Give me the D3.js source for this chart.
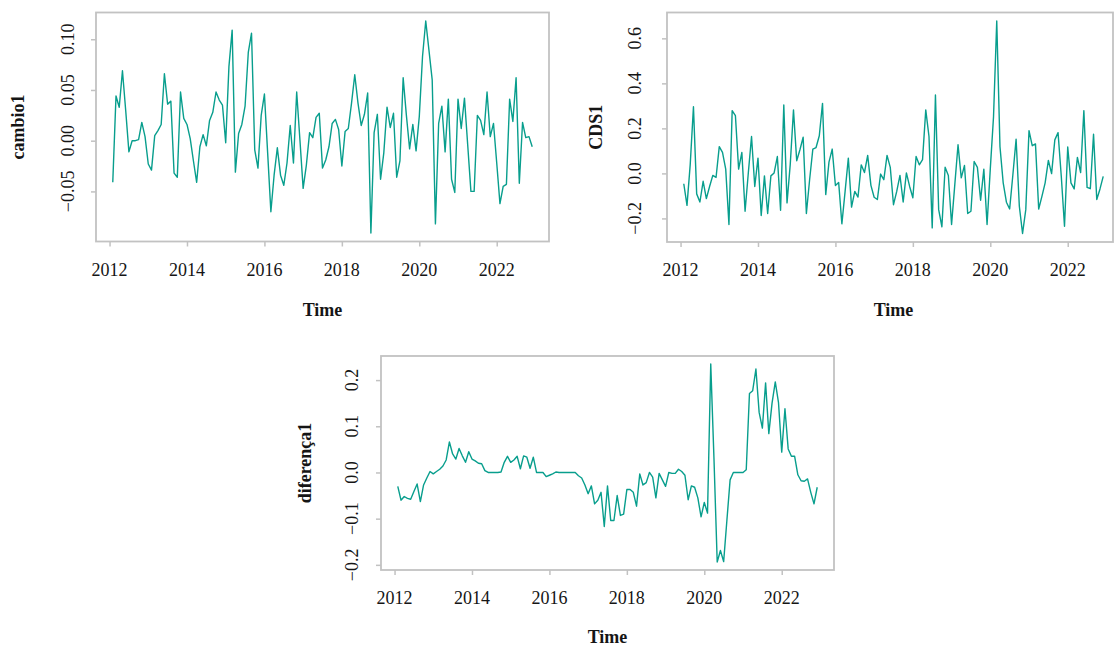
<!DOCTYPE html>
<html>
<head>
<meta charset="utf-8">
<script src="https://cdn.jsdelivr.net/npm/d3@7/dist/d3.min.js"></script>
<style>
  html, body { margin: 0; padding: 0; background: #ffffff; }
  svg { display: block; }
  text { font-family: "Liberation Serif", "DejaVu Serif", serif; fill: #151515; }
</style>
</head>
<body>
<svg id="chart" width="1114" height="650"></svg>
<script>
// Monthly series, February 2012 through December 2022 (first differences)
const startYear = 2012;
const startMonth = 2; // February

const cambio1 = [
  -0.041, 0.044, 0.033, 0.069, 0.030, -0.011, 0.000, 0.000, 0.001, 0.018, 0.004,
  -0.023, -0.029, 0.005, 0.010, 0.016, 0.066, 0.036, 0.039, -0.032, -0.036, 0.048, 0.022,
  0.016, 0.002, -0.020, -0.041, -0.006, 0.006, -0.005, 0.020, 0.028, 0.048, 0.040, 0.035,
  -0.002, 0.073, 0.109, -0.031, 0.007, 0.016, 0.034, 0.087, 0.106, -0.009, -0.027, 0.025,
  0.046, -0.012, -0.070, -0.034, -0.007, -0.034, -0.044, -0.022, 0.015, -0.022, 0.048, 0.001,
  -0.047, -0.024, 0.008, 0.003, 0.023, 0.027, -0.027, -0.019, -0.006, 0.017, 0.021, 0.011,
  -0.025, 0.009, 0.012, 0.037, 0.065, 0.037, 0.015, 0.026, 0.047, -0.091, 0.008, 0.026,
  -0.038, -0.012, 0.033, 0.013, 0.027, -0.036, -0.020, 0.062, 0.025, -0.008, 0.016, -0.010,
  0.024, 0.083, 0.118, 0.089, 0.060, -0.082, 0.017, 0.034, -0.011, 0.041, -0.038, -0.051,
  0.041, 0.012, 0.042, -0.004, -0.050, -0.050, 0.025, 0.020, 0.006, 0.048, 0.004, 0.017,
  -0.022, -0.062, -0.045, -0.043, 0.041, 0.019, 0.062, -0.042, 0.018, 0.003, 0.004, -0.006
];

const CDS1 = [
  -0.046, -0.142, 0.040, 0.296, -0.091, -0.127, -0.035, -0.112, -0.058, -0.009, -0.018,
  0.119, 0.093, 0.019, -0.227, 0.279, 0.257, 0.019, 0.093, -0.168, 0.002, 0.164, -0.058,
  0.068, -0.187, -0.011, -0.178, -0.011, 0.002, 0.075, -0.164, 0.304, -0.131, 0.040, 0.282,
  0.056, 0.105, 0.161, -0.178, -0.028, 0.108, 0.115, 0.167, 0.311, -0.094, 0.050, 0.108,
  -0.054, -0.040, -0.224, -0.080, 0.068, -0.150, -0.080, -0.105, 0.038, 0.004, 0.080, -0.053,
  -0.106, -0.116, -0.003, -0.028, 0.080, 0.027, -0.139, -0.080, -0.009, -0.127, 0.002, -0.058,
  -0.108, 0.075, 0.038, 0.061, 0.282, 0.164, -0.242, 0.348, -0.161, -0.237, 0.027, -0.009,
  -0.227, -0.050, 0.127, -0.020, 0.035, -0.178, -0.168, 0.053, 0.027, -0.119, 0.019, -0.227,
  0.020, 0.252, 0.677, 0.119, -0.042, -0.128, -0.158, -0.006, 0.152, -0.146, -0.267, -0.161,
  0.190, 0.123, 0.131, -0.158, -0.102, -0.042, 0.058, -0.001, 0.149, 0.181, -0.013, -0.235,
  0.117, -0.042, -0.069, 0.071, 0.004, 0.279, -0.062, -0.068, 0.174, -0.116, -0.069, -0.013
];

const diferenca1 = [
  -0.030, -0.060, -0.052, -0.056, -0.058, -0.041, -0.025, -0.063, -0.027, -0.012, 0.002,
  -0.003, 0.002, 0.007, 0.014, 0.027, 0.066, 0.040, 0.029, 0.052, 0.036, 0.022, 0.045,
  0.029, 0.025, 0.020, 0.019, 0.004, 0.000, 0.000, 0.000, 0.000, 0.001, 0.022, 0.035,
  0.022, 0.027, 0.035, 0.008, 0.036, 0.033, 0.009, 0.033, 0.000, 0.000, 0.000, -0.009,
  -0.006, -0.003, 0.001, 0.000, 0.000, 0.000, 0.000, 0.000, 0.000, -0.007, -0.012, -0.027,
  -0.046, -0.029, -0.068, -0.060, -0.043, -0.117, -0.029, -0.104, -0.104, -0.050, -0.093, -0.090,
  -0.037, -0.037, -0.043, -0.073, -0.003, -0.027, -0.022, 0.000, -0.010, -0.055, -0.002, -0.016,
  -0.030, 0.000, -0.002, -0.002, 0.007, 0.002, -0.006, -0.059, -0.029, -0.032, -0.055, -0.096,
  -0.065, -0.088, 0.235, 0.030, -0.194, -0.169, -0.193, -0.104, -0.016, 0.000, 0.000, 0.000,
  0.000, 0.006, 0.171, 0.177, 0.224, 0.130, 0.096, 0.194, 0.084, 0.150, 0.196, 0.151,
  0.044, 0.138, 0.051, 0.035, 0.035, -0.005, -0.018, -0.019, -0.014, -0.043, -0.068, -0.032
];

// Axis ticks and their labels
const yearTicks = [2012, 2014, 2016, 2018, 2020, 2022];
const ticksCambio = [-0.05, 0.00, 0.05, 0.10];
const labelsCambio = ["\u22120.05", "0.00", "0.05", "0.10"];
const ticksCDS = [-0.2, 0.0, 0.2, 0.4, 0.6];
const labelsCDS = ["\u22120.2", "0.0", "0.2", "0.4", "0.6"];
const ticksDif = [-0.2, -0.1, 0.0, 0.1, 0.2];
const labelsDif = ["\u22120.2", "\u22120.1", "0.0", "0.1", "0.2"];

const W = 1114, H = 650;
const lineColor = "#089e8d";
const frameColor = "#c2c2c2";
const fontSize = 18;

const svg = d3.select("#chart");

// Panel layout
const panels = [
  { name: "cambio1", values: cambio1, ticks: ticksCambio, labels: labelsCambio,
    left: 96, top: 12.5, width: 453, height: 229,
    yTickX: 68, yTitleX: 18, xTickY: 276, xTitleY: 316 },
  { name: "CDS1", values: CDS1, ticks: ticksCDS, labels: labelsCDS,
    left: 667, top: 12.5, width: 453, height: 229.5,
    yTickX: 635, yTitleX: 596, xTickY: 276, xTitleY: 316 },
  { name: "diferença1", values: diferenca1, ticks: ticksDif, labels: labelsDif,
    left: 381, top: 356, width: 453, height: 214,
    yTickX: 352, yTitleX: 305, xTickY: 604, xTitleY: 643 }
];

function timeOf(i) {
  return startYear + (startMonth - 1 + i) / 12;
}

function padded(extent) {
  const r = extent[1] - extent[0];
  return [extent[0] - 0.04 * r, extent[1] + 0.04 * r];
}

panels.forEach(p => {
  const series = p.values.map((v, i) => ({ t: timeOf(i), v: v }));
  const xDom = padded(d3.extent(series, d => d.t));
  const yDom = padded(d3.extent(series, d => d.v));

  const x = d3.scaleLinear().domain(xDom).range([p.left, p.left + p.width]);
  const y = d3.scaleLinear().domain(yDom).range([p.top + p.height, p.top]);

  const g = svg.append("g");

  // series line
  g.append("path")
    .datum(series)
    .attr("fill", "none")
    .attr("stroke", lineColor)
    .attr("stroke-width", 1.4)
    .attr("stroke-linejoin", "round")
    .attr("d", d3.line().x(d => x(d.t)).y(d => y(d.v)));

  // plot frame (kept inside the canvas)
  const frameW = Math.min(p.width, W - 1 - p.left);
  g.append("rect")
    .attr("x", p.left).attr("y", p.top)
    .attr("width", frameW).attr("height", p.height)
    .attr("fill", "none")
    .attr("stroke", frameColor)
    .attr("stroke-width", 1.8);

  // x axis
  const xAxis = d3.axisBottom(x).tickValues(yearTicks).tickSize(5).tickFormat("");
  const gx = g.append("g").attr("transform", `translate(0,${p.top + p.height})`).call(xAxis);
  gx.select(".domain").remove();
  gx.selectAll(".tick line").attr("stroke", frameColor).attr("stroke-width", 1.5);

  g.selectAll(null).data(yearTicks).enter().append("text")
    .attr("x", d => x(d))
    .attr("y", p.xTickY)
    .attr("text-anchor", "middle")
    .attr("font-size", fontSize)
    .text(d => d);

  // y axis
  const yAxis = d3.axisLeft(y).tickValues(p.ticks).tickSize(5).tickFormat("");
  const gy = g.append("g").attr("transform", `translate(${p.left},0)`).call(yAxis);
  gy.select(".domain").remove();
  gy.selectAll(".tick line").attr("stroke", frameColor).attr("stroke-width", 1.5);

  g.selectAll(null).data(p.ticks).enter().append("text")
    .attr("transform", (d, i) => `translate(${p.yTickX},${y(d)}) rotate(-90)`)
    .attr("text-anchor", "middle")
    .attr("dy", "0.35em")
    .attr("font-size", fontSize)
    .text((d, i) => p.labels[i]);

  // axis titles
  g.append("text")
    .attr("x", p.left + p.width / 2)
    .attr("y", p.xTitleY)
    .attr("text-anchor", "middle")
    .attr("font-size", fontSize)
    .attr("font-weight", "bold")
    .text("Time");

  g.append("text")
    .attr("transform", `translate(${p.yTitleX},${p.top + p.height / 2}) rotate(-90)`)
    .attr("text-anchor", "middle")
    .attr("dy", "0.35em")
    .attr("font-size", fontSize)
    .attr("font-weight", "bold")
    .text(p.name);
});
</script>
</body>
</html>
